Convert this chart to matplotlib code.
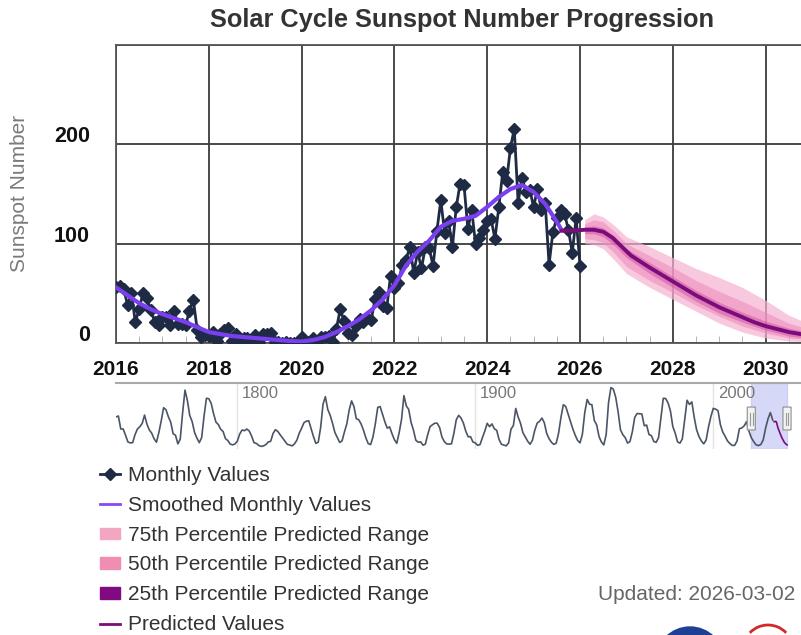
import numpy as np
import matplotlib
matplotlib.use('Agg')
import matplotlib.pyplot as plt
import matplotlib.patches as mpatches
import matplotlib.transforms as mtransforms
from matplotlib.lines import Line2D
from matplotlib.ticker import MultipleLocator

plt.rcParams['font.family'] = ['Liberation Sans', 'DejaVu Sans']

# monthly sunspot numbers, Jan 2016 .. Jan 2026
monthly_values = [
    56.6, 57.2, 54.4, 38.0, 50.3, 20.8, 34.6, 50.6, 44.8, 33.4, 21.4, 18.5,   # 2016
    26.1, 26.4, 17.7, 32.3, 18.9, 19.2, 17.8, 32.6, 43.6, 13.2, 5.7, 8.2,     # 2017
    6.8, 10.7, 2.5, 8.9, 13.1, 15.6, 1.6, 8.7, 3.3, 4.9, 4.9, 3.1,            # 2018
    7.7, 0.8, 9.4, 9.1, 9.9, 1.2, 0.9, 0.5, 1.1, 0.4, 0.5, 1.5,               # 2019
    6.2, 0.2, 1.5, 5.2, 0.2, 5.8, 6.1, 7.5, 0.6, 14.4, 34.0, 21.8,            # 2020
    10.4, 8.2, 17.2, 24.5, 21.2, 25.0, 23.4, 44.0, 51.3, 37.4, 34.8, 67.5,    # 2021
    55.3, 59.9, 78.5, 84.0, 96.5, 70.5, 91.4, 75.4, 96.3, 95.5, 77.6, 113.1,  # 2022
    143.6, 110.9, 122.8, 96.4, 137.0, 160.5, 159.1, 114.8, 133.6, 99.4, 105.4, 114.2,  # 2023
    123.0, 124.7, 104.9, 136.5, 171.7, 162.6, 196.3, 215.5, 141.4, 166.4, 152.5, 154.5,  # 2024
    137.0, 155.0, 134.0, 141.0, 79.0, 112.0, 126.0, 134.0, 130.0, 114.0, 91.0, 126.0,   # 2025
    78.0,                                                                      # 2026
]
monthly_years = [2016 + i / 12 for i in range(len(monthly_values))]

# 13-month smoothed values (quarterly readings)
smoothed_years = [2016.0, 2016.25, 2016.5, 2016.75, 2017.0, 2017.25, 2017.5, 2017.75,
                  2018.0, 2018.25, 2018.5, 2018.75, 2019.0, 2019.25, 2019.5, 2019.75,
                  2020.0, 2020.25, 2020.5, 2020.75, 2021.0, 2021.25, 2021.5, 2021.75,
                  2022.0, 2022.25, 2022.5, 2022.75, 2023.0, 2023.25, 2023.5, 2023.75,
                  2024.0, 2024.25, 2024.5, 2024.75, 2025.0, 2025.25, 2025.5, 2025.6]
smoothed_values = [56, 48, 40, 34, 29, 25, 21, 16,
                   11, 9, 7, 6, 5, 4, 3, 2,
                   1.5, 3, 6, 11, 17, 24, 33, 44,
                   58, 78, 92, 103, 117, 123, 125, 128,
                   137, 147, 155, 159, 152, 140, 122, 114]

# predicted values
pred_years = [2025.6, 2025.85, 2026.1, 2026.3, 2026.5, 2026.7, 2026.9, 2027.1, 2027.3,
              2027.5, 2027.75, 2028.0, 2028.25, 2028.5, 2028.75, 2029.0, 2029.25,
              2029.5, 2029.75, 2030.0, 2030.25, 2030.5, 2030.75, 2031.0]
pred_values = [113, 113, 114, 114, 112, 106, 97, 88, 82, 76, 69, 62, 55, 48, 42, 36,
               31, 26, 21, 17, 14, 11, 9, 7]

# predicted ranges
band_years = [2026.1, 2026.3, 2026.5, 2026.75, 2027.0, 2027.5, 2028.0, 2028.5,
              2029.0, 2029.5, 2030.0, 2030.5, 2031.0]
hi75 = [124, 130, 127, 118, 107, 97, 86, 75, 66, 56, 43, 28, 18]
lo75 = [100, 99, 95, 83, 70, 56, 44, 32, 20, 11, 5, 2, 1]
hi50 = [120, 124, 122, 112, 100, 88, 76, 63, 52, 42, 31, 20, 13]
lo50 = [105, 104, 101, 90, 77, 63, 51, 38, 27, 17, 10, 5, 3]
hi25 = [117, 118, 116, 107, 95, 81, 67, 53, 41, 31, 22, 15, 10]
lo25 = [110, 110, 107, 98, 86, 70, 56, 42, 30, 21, 13, 7, 4]

# yearly means for the overview strip
hist_start = 1749
hist_values = [
    134.7, 139.0, 79.5, 79.7, 51.0, 20.3, 16.0, 17.0, 54.0, 79.3, 90.0, 104.8, 143.2, 102.0,
    75.2, 60.7, 34.8, 19.0, 63.0, 116.3, 176.8, 168.0, 136.0, 110.8, 58.0, 51.0, 11.7, 33.0,
    154.2, 257.3, 209.8, 141.3, 113.5, 64.2, 38.0, 17.0, 40.2, 138.2, 220.0, 218.2, 196.8,
    149.8, 111.0, 100.0, 78.2, 68.3, 35.5, 26.7, 10.7, 6.8, 11.3, 24.2, 56.7, 75.0, 71.8,
    79.2, 70.3, 46.8, 16.8, 13.5, 4.2, 0.0, 2.3, 8.3, 20.3, 23.2, 59.0, 76.3, 68.3, 52.9,
    38.5, 24.2, 9.2, 6.3, 2.2, 11.4, 28.2, 59.9, 83.0, 108.5, 115.2, 117.4, 80.8, 44.3,
    13.4, 19.5, 85.8, 192.7, 227.3, 168.7, 143.0, 105.5, 63.3, 40.3, 18.1, 25.1, 65.8,
    102.7, 166.3, 208.3, 182.5, 126.3, 122.0, 102.7, 74.1, 39.0, 12.7, 8.2, 43.4, 104.4,
    178.3, 182.2, 146.6, 112.1, 83.5, 89.2, 57.8, 30.7, 13.9, 62.8, 123.6, 232.0, 185.3,
    169.2, 110.1, 74.5, 28.3, 18.9, 20.7, 5.7, 10.0, 53.7, 90.5, 99.0, 106.1, 105.8, 86.3,
    42.4, 21.8, 11.2, 10.4, 11.8, 59.5, 121.7, 142.0, 130.0, 106.6, 69.4, 43.8, 44.4, 20.2,
    15.7, 4.6, 8.5, 40.8, 70.1, 105.5, 90.1, 102.8, 80.9, 73.2, 30.9, 9.5, 6.0, 2.4, 16.1,
    79.0, 95.0, 173.6, 134.6, 105.7, 62.7, 43.5, 23.7, 9.7, 27.9, 74.0, 106.5, 114.7,
    129.7, 108.2, 59.4, 35.1, 18.6, 9.2, 14.6, 60.2, 132.8, 190.6, 182.6, 148.0, 113.0,
    79.2, 50.8, 27.1, 16.1, 55.3, 154.3, 214.7, 193.0, 190.7, 118.9, 98.3, 45.0, 20.1,
    6.6, 54.2, 200.7, 269.3, 261.7, 225.1, 159.0, 76.4, 53.4, 39.9, 15.0, 22.0, 66.8,
    132.9, 150.2, 149.4, 148.0, 94.4, 97.6, 54.1, 49.2, 22.5, 18.4, 39.3, 131.0, 220.1,
    218.9, 198.9, 162.4, 91.0, 60.5, 20.6, 14.8, 33.9, 123.0, 211.1, 191.8, 203.3, 133.0,
    76.1, 44.9, 25.1, 11.6, 28.9, 88.3, 136.3, 173.9, 170.4, 163.6, 99.3, 65.3, 45.8, 24.7,
    12.6, 4.2, 4.8, 24.9, 80.8, 84.5, 94.0, 113.3, 69.8, 39.8, 21.7, 7.0, 3.6, 8.8, 29.6,
    83.2, 125.5, 154.7, 120.0,
]
hist_years = [hist_start + i for i in range(len(hist_values))]

DARK = '#1f2a44'
SMOOTH = '#7a3ff0'
PRED = '#7b0c7b'
GRID = '#3c3c3c'
W, H = 801, 635

fig = plt.figure(figsize=(W / 100, H / 100), dpi=100)
fig.patch.set_facecolor('white')

def px_box(x0, y0, x1, y1):
    return [x0 / W, 1 - y1 / H, (x1 - x0) / W, (y1 - y0) / H]

# main chart (runs past the right edge, like the cropped screenshot)
ax = fig.add_axes(px_box(116, 45, 812, 343))
ax.set_xlim(2016, 2031)
ax.set_ylim(0, 300)

ax.fill_between(band_years, lo75, hi75, color='#f6b3d1', alpha=0.7, lw=0, zorder=2)
ax.fill_between(band_years, lo50, hi50, color='#ee88bb', alpha=0.55, lw=0, zorder=2)
ax.fill_between(band_years, lo25, hi25, color='#c63a9c', alpha=0.4, lw=0, zorder=2)
ax.plot(monthly_years, monthly_values, color=DARK, lw=2, marker='D', ms=6,
        zorder=3)
ax.plot(smoothed_years, smoothed_values, color=SMOOTH, lw=3, zorder=4)
ax.plot(pred_years, pred_values, color=PRED, lw=2.8, zorder=4)

ax.set_xticks(range(2016, 2032, 2))
ax.xaxis.set_minor_locator(MultipleLocator(0.5))
ax.set_yticks([0, 100, 200, 300])
ax.grid(True, which='major', color=GRID, lw=1.3, zorder=1)
ax.set_axisbelow(True)
for s in ax.spines.values():
    s.set_color('#555555')
    s.set_linewidth(1.3)
ax.tick_params(axis='x', which='major', length=0, pad=12, labelsize=15,
               labelcolor='#111111')
ax.tick_params(axis='x', which='minor', length=5, direction='in', color='#aaaaaa')
ax.tick_params(axis='y', length=0, pad=18.7, labelsize=15.5, labelcolor='#111111')
for lab in ax.get_xticklabels():
    lab.set_fontweight('bold')
ax.set_yticklabels(['0', '100', '200', ''], fontweight='bold')
shift = mtransforms.ScaledTranslation(0, 10 / 100, fig.dpi_scale_trans)
for lab in ax.get_yticklabels():
    lab.set_transform(lab.get_transform() + shift)

fig.text(20 / W, 1 - 193 / H, 'Sunspot Number', rotation=90, ha='center', va='center',
         fontsize=15, color='#7a7a7a')
fig.text(462 / W, 1 - 20 / H, 'Solar Cycle Sunspot Number Progression', ha='center',
         va='center', fontsize=18.3, fontweight='bold', color='#333333')

# overview strip
nav = fig.add_axes(px_box(116, 383, 812, 449))
nav.set_xlim(1749, 2041.5)
nav.set_ylim(-12, 290)
nav.plot(hist_years, hist_values, color='#4b5566', lw=1.2, zorder=3)
nav.plot(pred_years, pred_values, color=PRED, lw=1.2, zorder=3)
for yr in (1800, 1900, 2000):
    nav.axvline(yr, color='#e2e2e2', lw=1, zorder=1)
    nav.text(yr + 2, 275, str(yr), fontsize=12, color='#777777', va='top', ha='left')
nav.axvspan(2016, 2031, color='#b9bff2', alpha=0.6, zorder=2)
for hx in (2016, 2031):
    nav.add_patch(mpatches.FancyBboxPatch((hx - 1.7, 75), 3.4, 105,
                  boxstyle='round,pad=0,rounding_size=0.8', facecolor='#f2f2f2',
                  edgecolor='#999999', lw=0.9, zorder=5))
    for dx in (-0.5, 0.5):
        nav.plot([hx + dx, hx + dx], [100, 155], color='#999999', lw=0.8, zorder=6)
nav.set_xticks([])
nav.set_yticks([])
for side in ('left', 'right', 'bottom'):
    nav.spines[side].set_visible(False)
nav.spines['top'].set_color('#aaaaaa')
nav.spines['top'].set_linewidth(1.5)

# legend
handles = [
    Line2D([], [], color=DARK, lw=2, marker='D', ms=6),
    Line2D([], [], color='#8a4af3', lw=2),
    mpatches.Patch(color='#f2a6c2'),
    mpatches.Patch(color='#f08db2'),
    mpatches.Patch(color='#800a80'),
    Line2D([], [], color=PRED, lw=2),
]
labels = ['Monthly Values', 'Smoothed Monthly Values', '75th Percentile Predicted Range',
          '50th Percentile Predicted Range', '25th Percentile Predicted Range',
          'Predicted Values']
fig.legend(handles, labels, loc='upper left', bbox_to_anchor=(100 / W, 1 - 466 / H),
           frameon=False, fontsize=15, labelcolor='#333333', handlelength=0.95,
           handleheight=0.45, handletextpad=0.4, labelspacing=0.52, borderpad=0,
           borderaxespad=0)

fig.text(598 / W, 1 - 594 / H, 'Updated: 2026-03-02', ha='left', va='center',
         fontsize=15, color='#666666')

# partial logos at the bottom edge
fig.patches.append(mpatches.Ellipse((690 / W, 1 - 661 / H), 68 / W, 68 / H,
                                    color='#1d3f94', transform=fig.transFigure,
                                    figure=fig))
fig.patches.append(mpatches.Arc((768 / W, 1 - 650 / H), 50 / W, 50 / H, theta1=50,
                                theta2=130, color='#d62828', lw=2,
                                transform=fig.transFigure, figure=fig))

fig.savefig('out.png', dpi=100, facecolor='white')
